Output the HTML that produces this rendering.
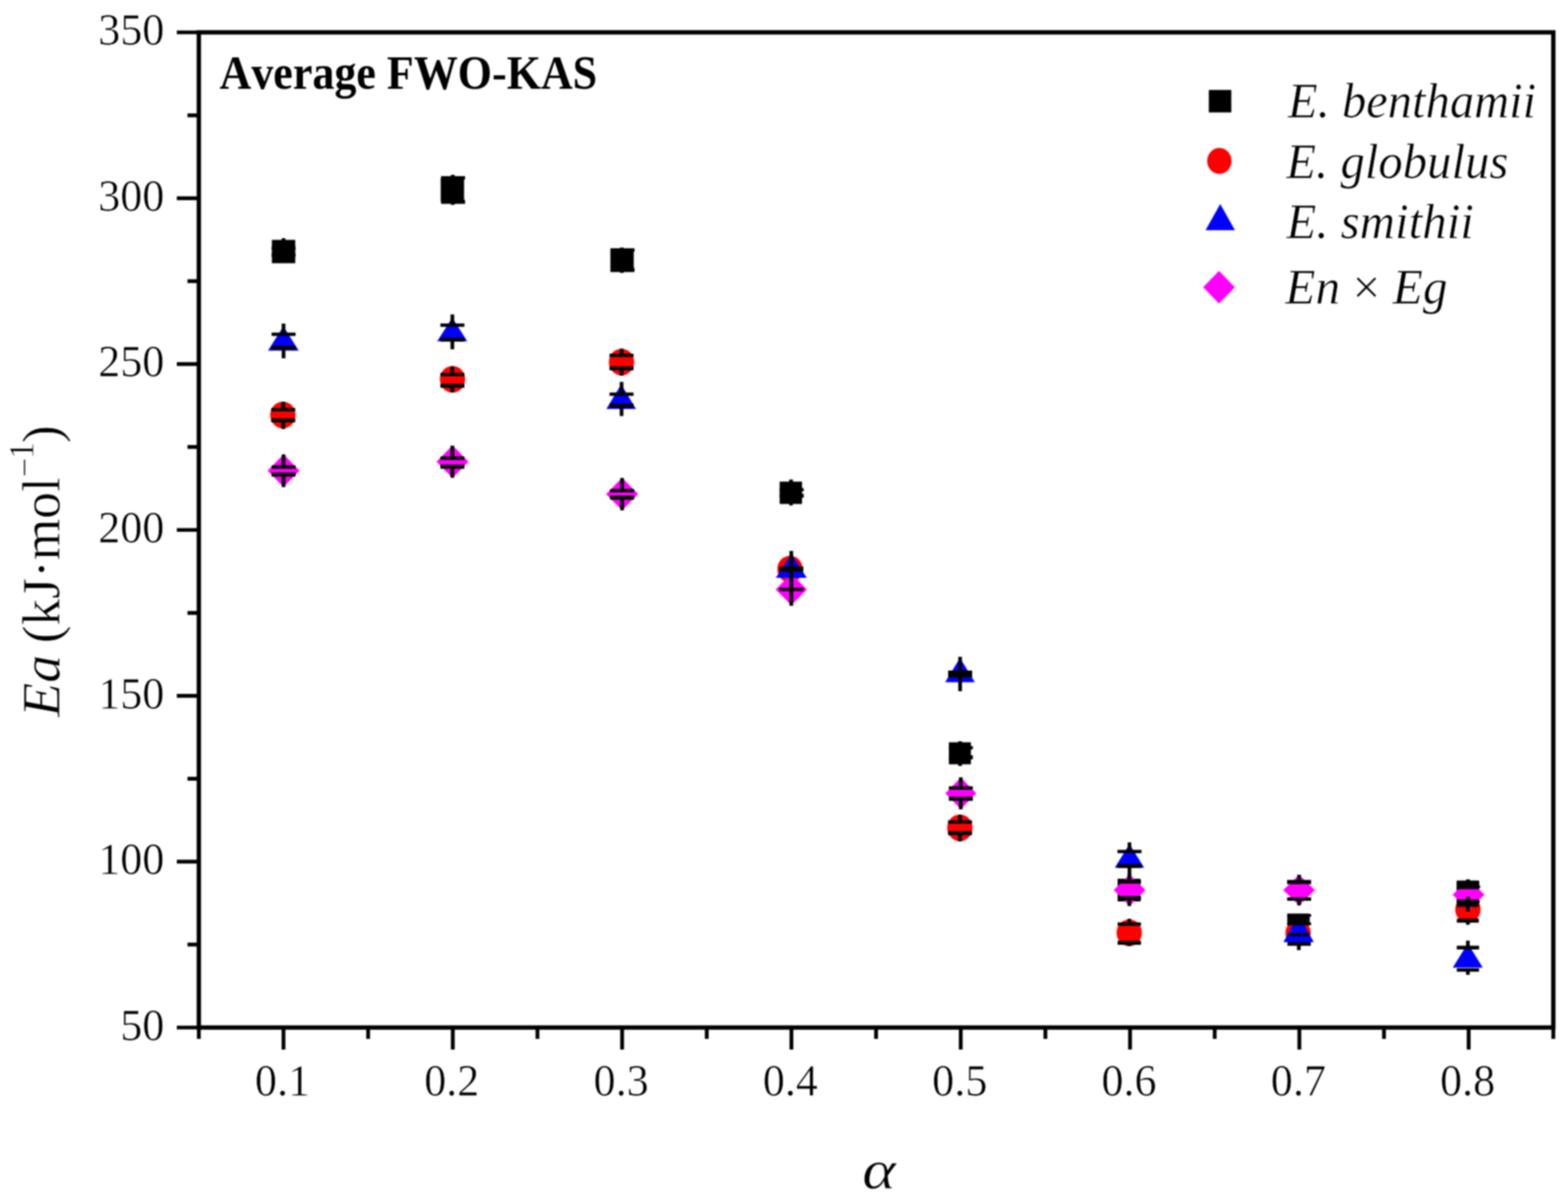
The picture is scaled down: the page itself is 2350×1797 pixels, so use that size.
<!DOCTYPE html>
<html><head><meta charset="utf-8"><title>Average FWO-KAS</title><style>html,body{margin:0;padding:0;background:#fff;overflow:hidden}svg{display:block;filter:blur(1px)} text{font-kerning:none} .e{stroke:#fff;stroke-width:0.7px}</style></head><body>
<svg width="2350" height="1797" viewBox="0 0 2350 1797">
<rect x="0" y="0" width="2350" height="1797" fill="#ffffff"/>
<rect x="407.5" y="359.5" width="35" height="35" fill="#000"/>
<rect x="660.5" y="267.0" width="35" height="35" fill="#000"/>
<rect x="914.8" y="372.5" width="35" height="35" fill="#000"/>
<rect x="1168.5" y="721.8" width="33.5" height="33.5" fill="#000"/>
<rect x="1422.1" y="1112.5" width="33" height="33" fill="#000"/>
<rect x="1675.0" y="1317.0" width="34" height="34" fill="#000"/>
<rect x="2183.0" y="1320.5" width="34" height="34" fill="#000"/>
<ellipse cx="424.0" cy="622.0" rx="19" ry="20" fill="#ff0000"/>
<ellipse cx="678.2" cy="568.5" rx="19" ry="20" fill="#ff0000"/>
<ellipse cx="931.5" cy="542.7" rx="19" ry="20" fill="#ff0000"/>
<ellipse cx="1184.0" cy="853.0" rx="19" ry="20" fill="#ff0000"/>
<ellipse cx="1438.6" cy="1240.7" rx="19" ry="20" fill="#ff0000"/>
<ellipse cx="1692.4" cy="1398.0" rx="19" ry="20" fill="#ff0000"/>
<ellipse cx="1945.5" cy="1398.0" rx="19" ry="19" fill="#ff0000"/>
<ellipse cx="2200.0" cy="1363.0" rx="19" ry="20" fill="#ff0000"/>
<polygon points="425.0,681.0 449.0,705.5 425.0,730.0 401.0,705.5" fill="#ff00ff"/>
<polygon points="678.2,667.5 702.2,692.0 678.2,716.5 654.2,692.0" fill="#ff00ff"/>
<polygon points="932.4,716.1 956.4,740.6 932.4,765.1 908.4,740.6" fill="#ff00ff"/>
<polygon points="1186.0,860.0 1209.5,883.5 1186.0,907.0 1162.5,883.5" fill="#ff00ff"/>
<polygon points="1440.0,1165.2 1463.2,1189.0 1440.0,1212.8 1416.8,1189.0" fill="#ff00ff"/>
<polygon points="1693.0,1310.2 1716.8,1334.0 1693.0,1357.8 1669.2,1334.0" fill="#ff00ff"/>
<polygon points="1947.0,1311.0 1970.8,1334.0 1947.0,1357.0 1923.2,1334.0" fill="#ff00ff"/>
<polygon points="2201.0,1317.2 2224.8,1341.0 2201.0,1364.8 2177.2,1341.0" fill="#ff00ff"/>
<polygon points="424.7,489.0 447.7,525.5 401.7,525.5" fill="#0000ff"/>
<polygon points="677.8,476.0 700.3,511.4 655.3,511.4" fill="#0000ff"/>
<polygon points="931.0,576.0 953.2,613.0 908.8,613.0" fill="#0000ff"/>
<polygon points="1186.0,830.0 1209.2,866.0 1162.8,866.0" fill="#0000ff"/>
<polygon points="1438.8,986.0 1461.0,1022.5 1416.5,1022.5" fill="#0000ff"/>
<polygon points="1692.8,1265.0 1714.8,1300.5 1670.8,1300.5" fill="#0000ff"/>
<polygon points="1946.2,1370.0 1969.0,1412.0 1923.5,1412.0" fill="#0000ff"/>
<polygon points="2199.8,1414.0 2222.3,1450.3 2177.3,1450.3" fill="#0000ff"/>
<rect x="1929.3" y="1369.2" width="33.5" height="17.8" fill="#000"/>
<rect x="2183.4" y="1319.7" width="32.9" height="12.9" fill="#000"/>
<rect x="2183.4" y="1348.3" width="32.9" height="11.0" fill="#000"/>
<rect x="2183.4" y="1376.8" width="32.9" height="6.0" fill="#000"/>
<rect x="422.2" y="357.0" width="5.5" height="15.0" fill="#000"/>
<rect x="422.2" y="382.0" width="5.5" height="12.0" fill="#000"/>
<rect x="407.0" y="369.5" width="36.0" height="5.0" fill="#000"/>
<rect x="407.0" y="379.0" width="36.0" height="6.0" fill="#000"/>
<rect x="422.2" y="485.0" width="5.5" height="16.0" fill="#000"/>
<rect x="422.2" y="521.0" width="5.5" height="16.0" fill="#000"/>
<rect x="407.0" y="498.5" width="36.0" height="5.0" fill="#000"/>
<rect x="407.0" y="518.0" width="36.0" height="6.0" fill="#000"/>
<rect x="421.8" y="602.0" width="5.5" height="12.0" fill="#000"/>
<rect x="421.8" y="630.0" width="5.5" height="13.0" fill="#000"/>
<rect x="406.5" y="611.5" width="36.0" height="5.0" fill="#000"/>
<rect x="406.5" y="627.0" width="36.0" height="6.0" fill="#000"/>
<rect x="422.2" y="681.0" width="5.5" height="19.0" fill="#000"/>
<rect x="422.2" y="711.3" width="5.5" height="18.7" fill="#000"/>
<rect x="407.0" y="697.5" width="36.0" height="5.0" fill="#000"/>
<rect x="407.0" y="708.3" width="36.0" height="6.0" fill="#000"/>
<rect x="675.8" y="262.0" width="5.5" height="4.5" fill="#000"/>
<rect x="675.8" y="302.5" width="5.5" height="4.5" fill="#000"/>
<rect x="661.0" y="264.0" width="36.0" height="5.0" fill="#000"/>
<rect x="661.0" y="299.5" width="36.0" height="6.0" fill="#000"/>
<rect x="675.2" y="471.3" width="5.5" height="16.0" fill="#000"/>
<rect x="675.2" y="509.0" width="5.5" height="14.5" fill="#000"/>
<rect x="660.0" y="484.8" width="36.0" height="5.0" fill="#000"/>
<rect x="660.0" y="506.0" width="36.0" height="6.0" fill="#000"/>
<rect x="675.2" y="549.0" width="5.5" height="12.3" fill="#000"/>
<rect x="675.2" y="578.2" width="5.5" height="9.8" fill="#000"/>
<rect x="660.0" y="558.8" width="36.0" height="5.0" fill="#000"/>
<rect x="660.0" y="575.2" width="36.0" height="6.0" fill="#000"/>
<rect x="675.2" y="668.0" width="5.5" height="18.7" fill="#000"/>
<rect x="675.2" y="699.5" width="5.5" height="16.5" fill="#000"/>
<rect x="660.0" y="684.2" width="36.0" height="5.0" fill="#000"/>
<rect x="660.0" y="696.5" width="36.0" height="6.0" fill="#000"/>
<rect x="929.2" y="371.0" width="5.5" height="3.7" fill="#000"/>
<rect x="929.2" y="404.5" width="5.5" height="4.5" fill="#000"/>
<rect x="915.0" y="372.2" width="36.0" height="5.0" fill="#000"/>
<rect x="915.0" y="401.5" width="36.0" height="6.0" fill="#000"/>
<rect x="928.8" y="522.5" width="5.5" height="10.1" fill="#000"/>
<rect x="928.8" y="552.0" width="5.5" height="11.0" fill="#000"/>
<rect x="913.5" y="530.1" width="36.0" height="5.0" fill="#000"/>
<rect x="913.5" y="549.0" width="36.0" height="6.0" fill="#000"/>
<rect x="928.8" y="572.4" width="5.5" height="18.4" fill="#000"/>
<rect x="928.8" y="607.8" width="5.5" height="15.7" fill="#000"/>
<rect x="913.5" y="588.3" width="36.0" height="5.0" fill="#000"/>
<rect x="913.5" y="604.8" width="36.0" height="6.0" fill="#000"/>
<rect x="929.6" y="716.4" width="5.5" height="19.0" fill="#000"/>
<rect x="929.6" y="745.9" width="5.5" height="18.9" fill="#000"/>
<rect x="914.4" y="732.9" width="36.0" height="5.0" fill="#000"/>
<rect x="914.4" y="742.9" width="36.0" height="6.0" fill="#000"/>
<rect x="1182.8" y="718.7" width="5.5" height="15.3" fill="#000"/>
<rect x="1182.8" y="743.0" width="5.5" height="14.5" fill="#000"/>
<rect x="1168.5" y="731.5" width="36.0" height="5.0" fill="#000"/>
<rect x="1168.5" y="740.0" width="36.0" height="6.0" fill="#000"/>
<rect x="1183.2" y="832.5" width="5.5" height="18.5" fill="#000"/>
<rect x="1183.2" y="854.5" width="5.5" height="19.0" fill="#000"/>
<rect x="1168.0" y="849.0" width="36.0" height="4" fill="#000"/>
<rect x="1168.0" y="852.5" width="36.0" height="4" fill="#000"/>
<rect x="1183.2" y="825.7" width="5.5" height="25.3" fill="#000"/>
<rect x="1183.2" y="854.5" width="5.5" height="23.5" fill="#000"/>
<rect x="1168.0" y="849.0" width="36.0" height="4" fill="#000"/>
<rect x="1168.0" y="852.5" width="36.0" height="4" fill="#000"/>
<rect x="1183.2" y="859.5" width="5.5" height="24.0" fill="#000"/>
<rect x="1183.2" y="883.5" width="5.5" height="24.4" fill="#000"/>
<rect x="1168.0" y="881.2" width="36.0" height="4.5" fill="#000"/>
<rect x="1168.0" y="881.2" width="36.0" height="4.5" fill="#000"/>
<rect x="1436.2" y="984.4" width="5.5" height="23.4" fill="#000"/>
<rect x="1436.2" y="1012.6" width="5.5" height="23.4" fill="#000"/>
<rect x="1421.0" y="1005.0" width="36.0" height="5.6" fill="#000"/>
<rect x="1421.0" y="1009.8" width="36.0" height="5.6" fill="#000"/>
<rect x="1436.2" y="1111.0" width="5.5" height="9.7" fill="#000"/>
<rect x="1436.2" y="1135.0" width="5.5" height="13.0" fill="#000"/>
<rect x="1422.0" y="1118.2" width="36.0" height="5.0" fill="#000"/>
<rect x="1422.0" y="1132.0" width="36.0" height="6.0" fill="#000"/>
<rect x="1437.2" y="1165.0" width="5.5" height="16.0" fill="#000"/>
<rect x="1437.2" y="1197.2" width="5.5" height="15.8" fill="#000"/>
<rect x="1422.0" y="1178.5" width="36.0" height="5.0" fill="#000"/>
<rect x="1422.0" y="1194.2" width="36.0" height="6.0" fill="#000"/>
<rect x="1436.0" y="1221.0" width="5.5" height="11.0" fill="#000"/>
<rect x="1436.0" y="1248.8" width="5.5" height="12.2" fill="#000"/>
<rect x="1420.8" y="1229.5" width="36.0" height="5.0" fill="#000"/>
<rect x="1420.8" y="1245.8" width="36.0" height="6.0" fill="#000"/>
<rect x="1690.0" y="1262.5" width="5.5" height="13.7" fill="#000"/>
<rect x="1690.0" y="1298.0" width="5.5" height="16.0" fill="#000"/>
<rect x="1674.8" y="1273.7" width="36.0" height="5.0" fill="#000"/>
<rect x="1674.8" y="1295.0" width="36.0" height="6.0" fill="#000"/>
<rect x="1689.8" y="1310.0" width="5.5" height="11.3" fill="#000"/>
<rect x="1689.8" y="1346.3" width="5.5" height="11.7" fill="#000"/>
<rect x="1675.0" y="1318.3" width="35.0" height="6" fill="#000"/>
<rect x="1675.0" y="1343.0" width="35.0" height="6.5" fill="#000"/>
<rect x="1689.8" y="1377.0" width="5.5" height="8.0" fill="#000"/>
<rect x="1689.8" y="1413.0" width="5.5" height="5.0" fill="#000"/>
<rect x="1675.0" y="1382.5" width="35.0" height="5.0" fill="#000"/>
<rect x="1675.0" y="1410.0" width="35.0" height="6.0" fill="#000"/>
<rect x="1944.2" y="1311.0" width="5.5" height="10.9" fill="#000"/>
<rect x="1944.2" y="1347.5" width="5.5" height="9.5" fill="#000"/>
<rect x="1929.0" y="1318.8" width="36.0" height="6.3" fill="#000"/>
<rect x="1929.0" y="1345.0" width="36.0" height="5" fill="#000"/>
<rect x="1929.3" y="1370.0" width="35.7" height="4" fill="#000"/>
<rect x="1929.3" y="1382.5" width="35.7" height="4" fill="#000"/>
<rect x="1931.0" y="1398.7" width="31.0" height="4.6" fill="#000"/>
<rect x="1929.5" y="1412.0" width="35.0" height="5.5" fill="#000"/>
<rect x="1943.8" y="1414.8" width="5.5" height="9.2" fill="#000"/>
<rect x="2197.2" y="1318.0" width="5.5" height="12.0" fill="#000"/>
<rect x="2197.2" y="1344.0" width="5.5" height="22.0" fill="#000"/>
<rect x="2197.2" y="1380.0" width="5.5" height="6.0" fill="#000"/>
<rect x="2183.4" y="1327.5" width="35.2" height="3" fill="#000"/>
<rect x="2183.4" y="1350.7" width="34.6" height="2" fill="#000"/>
<rect x="2197.2" y="1409.8" width="5.5" height="10.4" fill="#000"/>
<rect x="2197.2" y="1453.8" width="5.5" height="7.2" fill="#000"/>
<rect x="2183.3" y="1417.4" width="33.4" height="5.6" fill="#000"/>
<rect x="2183.3" y="1451.2" width="33.4" height="5.1" fill="#000"/>
<rect x="298.0" y="48.5" width="2030.0" height="1491.5" fill="none" stroke="#000" stroke-width="6.5"/>
<path d="M265.0,1540.00H298.0 M281.0,1415.71H298.0 M265.0,1291.42H298.0 M281.0,1167.12H298.0 M265.0,1042.83H298.0 M281.0,918.54H298.0 M265.0,794.25H298.0 M281.0,669.96H298.0 M265.0,545.67H298.0 M281.0,421.38H298.0 M265.0,297.08H298.0 M281.0,172.79H298.0 M265.0,48.50H298.0 M298.00,1540.0V1557.0 M424.88,1540.0V1573.0 M551.75,1540.0V1557.0 M678.62,1540.0V1573.0 M805.50,1540.0V1557.0 M932.38,1540.0V1573.0 M1059.25,1540.0V1557.0 M1186.12,1540.0V1573.0 M1313.00,1540.0V1557.0 M1439.88,1540.0V1573.0 M1566.75,1540.0V1557.0 M1693.62,1540.0V1573.0 M1820.50,1540.0V1557.0 M1947.38,1540.0V1573.0 M2074.25,1540.0V1557.0 M2201.12,1540.0V1573.0 M2328.00,1540.0V1557.0" stroke="#000" stroke-width="5.7" fill="none"/>
<text transform="translate(246.3,1558.7) scale(0.965,1)" font-family="Liberation Serif, serif" font-size="68.5" text-anchor="end" class="e">50</text>
<text transform="translate(246.3,1310.1) scale(0.965,1)" font-family="Liberation Serif, serif" font-size="68.5" text-anchor="end" class="e">100</text>
<text transform="translate(246.3,1061.5) scale(0.965,1)" font-family="Liberation Serif, serif" font-size="68.5" text-anchor="end" class="e">150</text>
<text transform="translate(246.3,813.0) scale(0.965,1)" font-family="Liberation Serif, serif" font-size="68.5" text-anchor="end" class="e">200</text>
<text transform="translate(246.3,564.4) scale(0.965,1)" font-family="Liberation Serif, serif" font-size="68.5" text-anchor="end" class="e">250</text>
<text transform="translate(246.3,315.8) scale(0.965,1)" font-family="Liberation Serif, serif" font-size="68.5" text-anchor="end" class="e">300</text>
<text transform="translate(246.3,67.2) scale(0.965,1)" font-family="Liberation Serif, serif" font-size="68.5" text-anchor="end" class="e">350</text>
<text transform="translate(423.4,1642) scale(0.965,1)" font-family="Liberation Serif, serif" font-size="68.5" text-anchor="middle" class="e">0.1</text>
<text transform="translate(677.1,1642) scale(0.965,1)" font-family="Liberation Serif, serif" font-size="68.5" text-anchor="middle" class="e">0.2</text>
<text transform="translate(930.9,1642) scale(0.965,1)" font-family="Liberation Serif, serif" font-size="68.5" text-anchor="middle" class="e">0.3</text>
<text transform="translate(1184.6,1642) scale(0.965,1)" font-family="Liberation Serif, serif" font-size="68.5" text-anchor="middle" class="e">0.4</text>
<text transform="translate(1438.4,1642) scale(0.965,1)" font-family="Liberation Serif, serif" font-size="68.5" text-anchor="middle" class="e">0.5</text>
<text transform="translate(1692.1,1642) scale(0.965,1)" font-family="Liberation Serif, serif" font-size="68.5" text-anchor="middle" class="e">0.6</text>
<text transform="translate(1945.9,1642) scale(0.965,1)" font-family="Liberation Serif, serif" font-size="68.5" text-anchor="middle" class="e">0.7</text>
<text transform="translate(2199.6,1642) scale(0.965,1)" font-family="Liberation Serif, serif" font-size="68.5" text-anchor="middle" class="e">0.8</text>
<text x="329" y="132.7" font-family="Liberation Serif, serif" font-weight="bold" font-size="71" textLength="566" lengthAdjust="spacingAndGlyphs">Average FWO-KAS</text>
<rect x="1811.7" y="134.8" width="33.7" height="33.7" fill="#000"/>
<ellipse cx="1827.5" cy="241.3" rx="18.3" ry="19.5" fill="#ff0000"/>
<polygon points="1828.8,305.8 1850.8,345.0 1806.8,345.0" fill="#0000ff"/>
<polygon points="1827.0,405.9 1850.8,430.4 1827.0,454.9 1803.2,430.4" fill="#ff00ff"/>
<text x="1930.3" y="176.3" font-family="Liberation Serif, serif" font-size="74" class="e" font-style="italic" textLength="372" lengthAdjust="spacingAndGlyphs">E. benthamii</text>
<text x="1927.7" y="266.6" font-family="Liberation Serif, serif" font-size="74" class="e" font-style="italic" textLength="333" lengthAdjust="spacingAndGlyphs">E. globulus</text>
<text x="1927.9" y="356.5" font-family="Liberation Serif, serif" font-size="74" class="e" font-style="italic" textLength="281" lengthAdjust="spacingAndGlyphs">E. smithii</text>
<text x="1926.3" y="455" font-family="Liberation Serif, serif" font-size="74" class="e"><tspan font-style="italic">En</tspan> × <tspan font-style="italic">Eg</tspan></text>
<text transform="translate(1317.5,1781) scale(1.17,1)" font-family="Liberation Serif, serif" font-size="82" font-style="italic" text-anchor="middle" class="e">α</text>
<text transform="translate(88.5,1074.5) rotate(-90)" font-family="Liberation Serif, serif" font-size="80" font-style="italic" class="e" textLength="93" lengthAdjust="spacingAndGlyphs">Ea</text>
<text transform="translate(88.5,964.1) rotate(-90)" font-family="Liberation Serif, serif" font-size="80" class="e">(kJ·mol<tspan dy="-34.5" font-size="52">−</tspan><tspan dy="-4.2" dx="-2" font-size="52">1</tspan><tspan dy="38.7" dx="-2">)</tspan></text>
</svg>
</body></html>
